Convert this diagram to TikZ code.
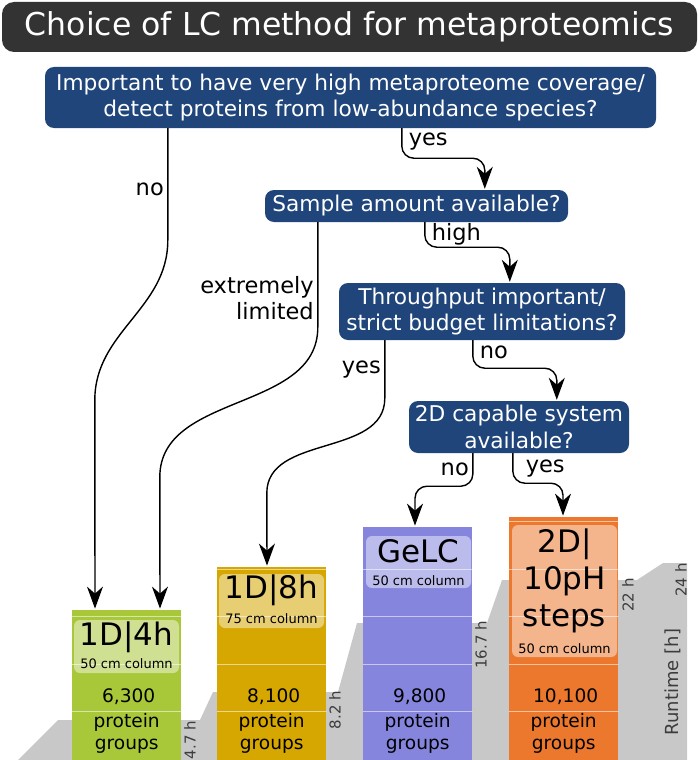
\documentclass[tikz,border=0pt]{standalone}
\usepackage{fontspec}
\setmainfont{DejaVu Sans}
\usetikzlibrary{arrows.meta}

\definecolor{titlegray}{RGB}{51,51,51}
\definecolor{qblue}{RGB}{31,69,123}
\definecolor{lcgreen}{RGB}{168,200,58}
\definecolor{lcgold}{RGB}{213,167,0}
\definecolor{lcpurple}{RGB}{133,133,221}
\definecolor{lcorange}{RGB}{236,120,46}
\definecolor{rtgray}{RGB}{200,200,200}
\definecolor{rttext}{RGB}{60,60,60}

\tikzset{
  question/.style={rounded corners=9pt, fill=qblue, text=white, align=center, inner sep=0pt, font=\fontsize{21.7}{26.5}\selectfont},
  bar/.style={anchor=south west, minimum width=109pt, inner sep=0pt},
  labelbox/.style={rounded corners=6pt, fill=white, fill opacity=0.45, minimum width=105pt, inner sep=0pt},
  method/.style={anchor=base, inner sep=0pt, font=\fontsize{31}{37}\selectfont},
  column/.style={anchor=base, inner sep=0pt, font=\fontsize{13}{15}\selectfont},
  count/.style={anchor=base, inner sep=0pt, font=\fontsize{18.6}{22}\selectfont},
  hours/.style={rotate=90, text=rttext, inner sep=0pt, font=\fontsize{15}{17}\selectfont},
  answer/.style={font=\fontsize{22.5}{26}\selectfont},
  arr/.style={-{Stealth[length=22pt,width=16pt,inset=7pt]}, line width=1.4pt, shorten >=1pt},
}

\begin{document}
\begin{tikzpicture}[x=1pt,y=-1pt]
	\useasboundingbox (0,0) rectangle (700,760);
	% title and questions
	\node[rounded corners=12pt, fill=titlegray, text=white, minimum width=695pt, minimum height=50pt, inner sep=0pt, font=\fontsize{31.5}{36}\selectfont] (title) at (349.5,27) {Choice of LC method for metaproteomics};
	\node[question, minimum width=611pt, minimum height=61pt] (q1) at (350.5,97.5) {Important to have very high metaproteome coverage/\\detect proteins from low-abundance species?};
	\node[question, minimum width=303pt, minimum height=32pt] (q2) at (416.5,206) {Sample amount available?};
	\node[question, minimum width=286pt, minimum height=57pt] (q3) at (482,311.5) {Throughput important/\\strict budget limitations?};
	\node[question, minimum width=220pt, minimum height=52pt] (q4) at (519,427) {2D capable system\\available?};

	% runtime background
	\fill[rtgray] (18,760) -- (58,720) -- (200,720) -- (213,692) -- (338,692) -- (357,623) -- (487,623) -- (502,580) -- (637,580) -- (663,563) -- (687,563) -- (687,760) -- cycle;

	% bars
	\node[bar, fill=lcgreen, minimum height=150pt] (b1) at (72,760) {};
	\node[bar, fill=lcgold, minimum height=193pt] (b2) at (217,760) {};
	\node[bar, fill=lcpurple, minimum height=233pt] (b3) at (363,760) {};
	\node[bar, fill=lcorange, minimum height=243pt] (b4) at (509,760) {};
	\begin{scope}
		\clip (b1.south west) rectangle (b1.north east) (b2.south west) rectangle (b2.north east)
		      (b3.south west) rectangle (b3.north east) (b4.south west) rectangle (b4.north east);
		\foreach \y in {521,569,616,664,711}
			\draw[white, opacity=.55, line width=1pt] (0,\y) -- (700,\y);
	\end{scope}

	\node[labelbox, minimum height=53pt] (l1) at (126.5,646.5) {};
	\node[labelbox, minimum height=54pt] (l2) at (271.5,601) {};
	\node[labelbox, minimum height=52pt] (l3) at (418.5,562) {};
	\node[labelbox, minimum height=132pt] (l4) at (564.5,591) {};

	\node[method] (m1) at (126.5,645) {1D|4h};
	\node[column] (c1) at (126.5,668) {50 cm column};
	\node[method] (m2) at (271.5,598) {1D|8h};
	\node[column] (c2) at (271.5,623) {75 cm column};
	\node[method] (m3) at (418.5,562) {GeLC};
	\node[column] (c3) at (418.5,585) {50 cm column};
	\node[method, align=center] (m4) at (564.5,626) {2D|\\10pH\\steps};
	\node[column] (c4) at (564.5,653) {50 cm column};

	% protein groups
	\foreach \b/\n in {b1/{6,300}, b2/{8,100}, b3/{9,800}, b4/{10,100}} {
		\node[count] (\b-n) at ([xshift=2pt,yshift=57.5pt]\b.south) {\n};
		\node[count] (\b-p) at ([yshift=33pt]\b.south) {protein};
		\node[count] (\b-g) at ([yshift=11pt]\b.south) {groups};
	}

	% runtimes
	\node[hours] (h1) at (190,740) {4.7 h};
	\node[hours] (h2) at (335,710) {8.2 h};
	\node[hours] (h3) at (481,645) {16.7 h};
	\node[hours] (h4) at (628,595) {22 h};
	\node[hours] (h5) at (681,580) {24 h};
	\node[hours, font=\fontsize{18}{20}\selectfont] (rt) at (673,682) {Runtime [h]};

	% decisions
	\draw[arr] ([xshift=123pt]q1.south west) -- node[answer, left, pos=.55] {no} ++(0,112)
		to[out=-90,in=90] ++(-73,160) -- ([xshift=23pt]b1.north west);
	\draw[arr, rounded corners=12pt] ([xshift=357pt]q1.south west) -- node[answer, right, pos=.45, xshift=3pt] {yes} ++(0,30)
		-| ([xshift=220pt]q2.north west);
	\draw[arr] ([xshift=53pt]q2.south west) -- node[answer, left, align=right, pos=.72] {extremely\\limited} ++(0,105)
		to[out=-90,in=90] ++(-158,150) -- ([xshift=88pt]b1.north west);
	\draw[arr, rounded corners=12pt] ([xshift=160pt]q2.south west) -- node[answer, right, pos=.5, xshift=3pt] {high} ++(0,25)
		-| ([xshift=171pt]q3.north west);
	\draw[arr] ([xshift=46pt]q3.south west) -- node[answer, left, pos=.5] {yes} ++(0,58)
		to[out=-90,in=90] ++(-118,95) -- ([xshift=50pt]b2.north west);
	\draw[arr, rounded corners=12pt] ([xshift=134pt]q3.south west) -- node[answer, right, pos=.45, xshift=3pt] {no} ++(0,28)
		-| ([xshift=148pt]q4.north west);
	\draw[arr, rounded corners=12pt] ([xshift=64pt]q4.south west) -- node[answer, left, pos=.5] {no} ++(0,33)
		-| ([xshift=52pt]b3.north west);
	\draw[arr, rounded corners=12pt] ([xshift=104pt]q4.south west) -- node[answer, right, pos=.5, xshift=9pt] {yes} ++(0,30)
		-| ([xshift=54pt]b4.north west);
\end{tikzpicture}
\end{document}
